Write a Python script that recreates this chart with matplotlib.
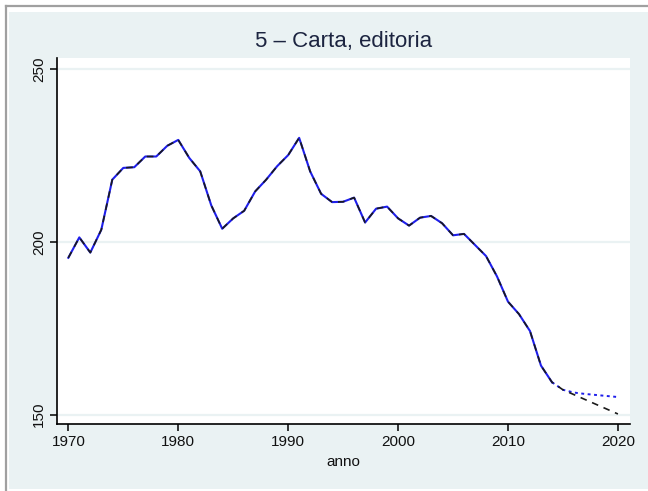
import matplotlib
matplotlib.use("Agg")
import matplotlib.pyplot as plt
from matplotlib.patches import Rectangle
from matplotlib.lines import Line2D

plt.rcParams['font.family'] = ['Liberation Sans', 'DejaVu Sans']

# Observed index, 1970-2014
years_obs = list(range(1970, 2015))
values_obs = [195.4, 201.3, 196.9, 203.5, 218.0, 221.4, 221.6, 224.7, 224.7, 227.8,
              229.5, 224.3, 220.4, 210.6, 203.8, 206.8, 209.0, 214.6, 218.0, 221.9,
              225.1, 230.1, 220.4, 213.9, 211.5, 211.6, 212.8, 205.6, 209.6, 210.2,
              206.8, 204.7, 207.0, 207.5, 205.4, 201.9, 202.3, 199.1, 195.9, 190.0,
              182.7, 179.1, 174.2, 164.2, 159.4]

# Projection A (dotted), 2014-2020
years_fc_a = list(range(2014, 2021))
values_fc_a = [159.4, 157.2, 156.4, 156.0, 155.7, 155.4, 155.1]

# Projection B (dashed), fitted over the whole span and extended to 2020
years_fc_b = years_obs + list(range(2015, 2021))
values_fc_b = values_obs + [157.2, 155.8, 154.4, 153.0, 151.6, 150.2]

x_ticks = [1970, 1980, 1990, 2000, 2010, 2020]
y_ticks = [150, 200, 250]

title = "5 \u2013 Carta, editoria"
x_label = "anno"

W, H = 648, 491
fig = plt.figure(figsize=(W / 100, H / 100), dpi=100, facecolor="white")

# outer frame and light background
bg = "#EAF2F3"
fig.patches.append(Rectangle((9 / W, 2 / H), 1 - 9 / W, 1 - 14 / H,
                             transform=fig.transFigure, facecolor=bg,
                             edgecolor="none", zorder=-10))
fig.lines.append(Line2D([5.5 / W, 5.5 / W], [0, 1 - 5.5 / H],
                        transform=fig.transFigure, color="#A0A0A0", lw=1.6, zorder=-9))
fig.lines.append(Line2D([5.5 / W, 1], [1 - 5.5 / H, 1 - 5.5 / H],
                        transform=fig.transFigure, color="#A0A0A0", lw=1.6, zorder=-9))

left, right, top, bottom = 57, 630, 58, 424
ax = fig.add_axes([left / W, 1 - bottom / H, (right - left) / W, (bottom - top) / H])
ax.set_zorder(5)
ax.set_facecolor("white")

ax.plot(years_obs, values_obs, color="#1E1EEB", lw=1.5, solid_joinstyle="round", zorder=3)
ax.plot(years_fc_a, values_fc_a, color="#1E1EEB", lw=1.4, linestyle=(0, (1.5, 1.8)), zorder=3)
ax.plot(years_fc_b, values_fc_b, color="#1A1A1A", lw=1.2, linestyle=(0, (4, 3.5)), zorder=4)

ax.set_xlim(1968.97, 2021.1)
ax.set_ylim(147.3, 253.2)
ax.set_xticks(x_ticks)
ax.set_yticks(y_ticks)
ax.set_yticklabels([str(v) for v in y_ticks], rotation=90, va="center")
ax.tick_params(axis="both", direction="out", length=5, width=1.1, color="black",
               labelsize=11, labelcolor="#111111", pad=3)

for v in y_ticks:
    ax.axhline(v, color=bg, lw=1.6, zorder=1)

for s in ["top", "right"]:
    ax.spines[s].set_visible(False)
for s in ["left", "bottom"]:
    ax.spines[s].set_linewidth(1.2)
    ax.spines[s].set_color("black")

ax.set_xlabel(x_label, fontsize=11, color="#111111", labelpad=4)
fig.text((left + right) / 2 / W, 1 - 42 / H, title, ha="center", va="center",
         fontsize=16, color="#1C2440")

fig.savefig("out.png", dpi=100, facecolor="white")
